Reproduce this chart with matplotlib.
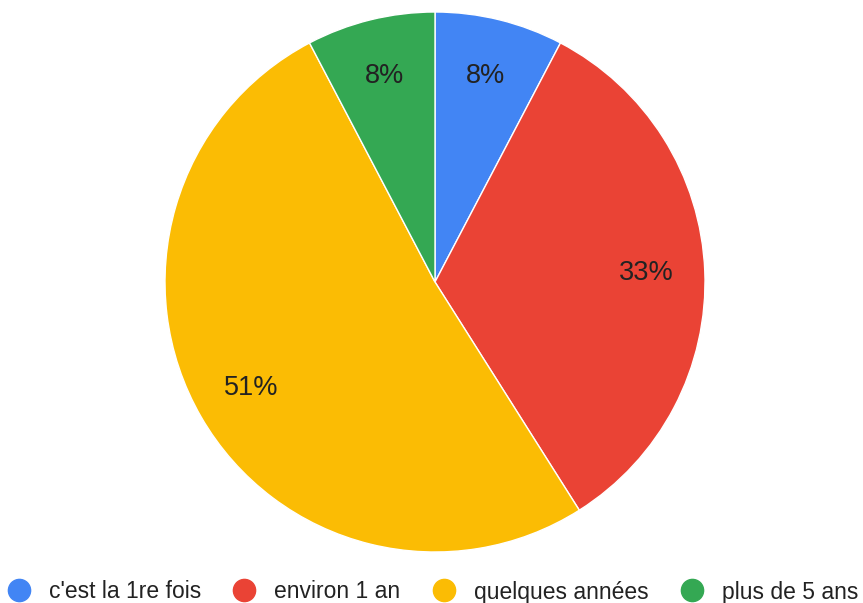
import matplotlib.pyplot as plt
from matplotlib.lines import Line2D

labels = ["c'est la 1re fois", "environ 1 an", "quelques années", "plus de 5 ans"]
counts = [3, 13, 20, 3]
colors = ['#4285F4', '#EA4335', '#FBBC04', '#34A853']

plt.rcParams['font.family'] = ['Liberation Sans', 'DejaVu Sans']

fig = plt.figure(figsize=(8.63, 6.03), dpi=100)
W, H = 863, 603
ax = fig.add_axes([165 / W, 51 / H, 540 / W, 540 / H])

wedges, texts, autotexts = ax.pie(
    counts, colors=colors, startangle=90, counterclock=False,
    autopct=lambda p: f'{p:.0f}%', pctdistance=0.785,
    wedgeprops=dict(edgecolor='white', linewidth=1),
    textprops=dict(fontsize=19.5, color='#222222'))
ax.set_xlim(-1, 1)
ax.set_ylim(-1, 1)
ax.set_aspect('equal')
ax.axis('off')

handles = [Line2D([0], [0], marker='o', linestyle='', markersize=16,
                  markerfacecolor=c, markeredgecolor=c) for c in colors]
fig.legend(handles, labels, loc='center', bbox_to_anchor=(0.5, 1 - 592 / H),
           ncol=4, frameon=False, fontsize=16.5, handletextpad=0.7,
           columnspacing=1.3, handlelength=1.2, labelcolor='#222222',
           borderpad=0, borderaxespad=0)

fig.savefig('out.png', dpi=100)
